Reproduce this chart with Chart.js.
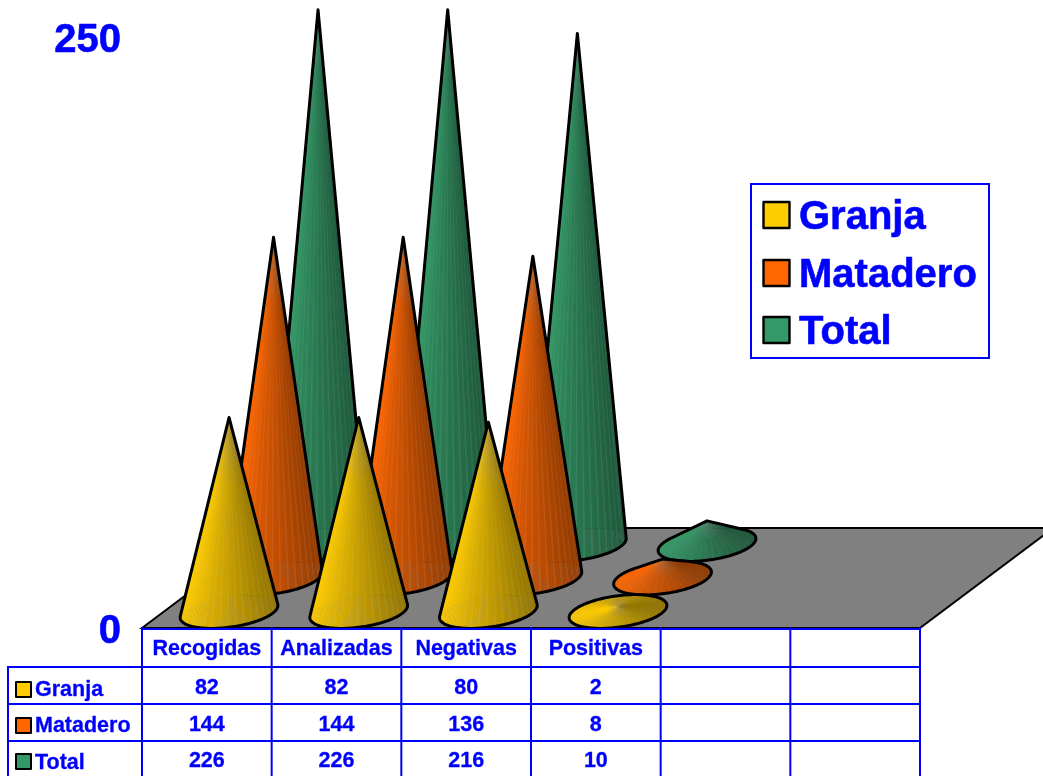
<!DOCTYPE html>
<html>
<head>
<meta charset="utf-8">
<title>Muestras</title>
<script src="https://cdn.jsdelivr.net/npm/chart.js@4/dist/chart.umd.min.js"></script>
<style>
  html, body { margin: 0; padding: 0; background: #fff; }
  canvas { display: block; }
</style>
</head>
<body>
<canvas id="myChart" width="1043" height="776"></canvas>
<script>
// values
var categories = ['Recogidas', 'Analizadas', 'Negativas', 'Positivas', '', ''];
var granja = [82, 82, 80, 2];
var matadero = [144, 144, 136, 8];
var total = [226, 226, 216, 10];
var seriesNames = ['Granja', 'Matadero', 'Total'];
var seriesColors = ['#FFCC00', '#FF6600', '#339966'];
var yTicks = [0, 250];

var BLUE = '#0000FF';
var FONT = '"Liberation Sans", Arial, sans-serif';

// depth of the fake 3d floor
var depthX = 44.5, depthY = 33.5;
var firstX = 22.2, firstY = 16.5;

function shade(hex, k, light) {
  var c = [parseInt(hex.substr(1, 2), 16), parseInt(hex.substr(3, 2), 16), parseInt(hex.substr(5, 2), 16)];
  var out = c.map(function (v) {
    return Math.min(255, Math.round(v * k * (1 - light) + 200 * light));
  });
  return 'rgb(' + out.join(',') + ')';
}

function hull(points) {
  var pts = points.slice().sort(function (a, b) { return a.x - b.x || a.y - b.y; });
  function cross(o, a, b) { return (a.x - o.x) * (b.y - o.y) - (a.y - o.y) * (b.x - o.x); }
  var lower = [], upper = [];
  pts.forEach(function (p) {
    while (lower.length > 1 && cross(lower[lower.length - 2], lower[lower.length - 1], p) <= 0) lower.pop();
    lower.push(p);
  });
  pts.reverse().forEach(function (p) {
    while (upper.length > 1 && cross(upper[upper.length - 2], upper[upper.length - 1], p) <= 0) upper.pop();
    upper.push(p);
  });
  return lower.slice(0, -1).concat(upper.slice(0, -1));
}

function drawCone(ctx, bar, k, color) {
  var zero = bar.base, halfW = bar.width / 2;
  var cx = bar.x + firstX + depthX * k;
  var cy = zero - firstY - depthY * k;
  var apex = { x: cx, y: bar.y - firstY - depthY * k };
  var tall = cy - apex.y;
  var A = halfW, B = halfW * 0.38, C = halfW * 0.37;
  var n = 150, ring = [], i;
  for (i = 0; i < n; i++) {
    var t = i / n * Math.PI * 2;
    ring.push({ x: cx + Math.cos(t) * A + Math.sin(t) * B, y: cy - Math.sin(t) * C });
  }
  var minX = cx - Math.sqrt(A * A + B * B), spanX = 2 * Math.sqrt(A * A + B * B);

  // fan of thin slices, back of the ring first, lit from the left
  var slices = ring.map(function (p, idx) { return { a: p, b: ring[(idx + 1) % n], idx: idx }; });
  slices.sort(function (s1, s2) { return s1.a.y - s2.a.y; });
  slices.forEach(function (s) {
    var pos = (s.a.x - minX) / spanX;
    var k2 = pos < 0.3 ? 1 - 0.5 * pos : 0.85 - 0.39 * (pos - 0.3);
    var light = s.idx % 4 === 0 ? (tall > 60 ? 0.12 : 0.05) : 0;
    ctx.fillStyle = shade(color, k2, light);
    ctx.strokeStyle = ctx.fillStyle;
    ctx.lineWidth = 0.3;
    ctx.beginPath();
    ctx.moveTo(apex.x, apex.y);
    ctx.lineTo(s.a.x, s.a.y);
    ctx.lineTo(s.b.x, s.b.y);
    ctx.closePath();
    ctx.fill();
    ctx.stroke();
  });

  var outline = hull(ring.concat([apex]));
  function tracePath() {
    ctx.beginPath();
    outline.forEach(function (p, idx) { if (idx) ctx.lineTo(p.x, p.y); else ctx.moveTo(p.x, p.y); });
    ctx.closePath();
  }

  // greyish haze around the tip
  ctx.save();
  tracePath();
  ctx.clip();
  var reach = Math.min(70, tall * 0.4 + 10);
  var haze = ctx.createRadialGradient(apex.x, apex.y, 0, apex.x, apex.y, reach);
  haze.addColorStop(0, 'rgba(136,136,136,0.4)');
  haze.addColorStop(1, 'rgba(136,136,136,0)');
  ctx.fillStyle = haze;
  ctx.fillRect(apex.x - reach, apex.y - reach, reach * 2, reach * 2);
  ctx.restore();

  tracePath();
  ctx.strokeStyle = '#000';
  ctx.lineWidth = 3;
  ctx.lineJoin = 'round';
  ctx.stroke();
}

var conePlugin = {
  id: 'cones',
  afterLayout: function (chart) {
    // digits sit a bit high on the middle baseline, push the axis labels down
    chart.scales.y.getLabelItems(chart.chartArea).forEach(function (item) {
      item.options.translation[1] += 4;
    });
  },
  beforeDatasetsDraw: function (chart) {
    // grey floor behind the cones
    var ctx = chart.ctx, area = chart.chartArea;
    var dx = firstX * 2 + depthX * 2, dy = firstY * 2 + depthY * 2;
    ctx.save();
    ctx.fillStyle = '#808080';
    ctx.strokeStyle = '#000';
    ctx.lineWidth = 2;
    ctx.beginPath();
    ctx.moveTo(area.left, area.bottom);
    ctx.lineTo(area.left + dx, area.bottom - dy);
    ctx.lineTo(area.right + dx, area.bottom - dy);
    ctx.lineTo(area.right, area.bottom);
    ctx.closePath();
    ctx.fill();
    ctx.stroke();
    ctx.restore();
  },
  beforeDatasetDraw: function (chart, args) {
    var ctx = chart.ctx;
    ctx.save();
    args.meta.data.forEach(function (el) {
      var bar = el.getProps(['x', 'y', 'base', 'width'], true);
      drawCone(ctx, bar, args.index, chart.data.datasets[args.index].backgroundColor);
    });
    ctx.restore();
    return false; // cone replaces the bar
  },
  afterDraw: function (chart) {
    drawTable(chart);
    drawLegendBox(chart);
  }
};

function drawSwatch(ctx, x, y, size, color, lw) {
  ctx.fillStyle = color;
  ctx.strokeStyle = '#000';
  ctx.lineWidth = lw;
  ctx.lineJoin = 'round';
  ctx.fillRect(x, y, size, size);
  ctx.strokeRect(x, y, size, size);
}

function boldText(ctx, text, x, y, lw) {
  ctx.fillStyle = BLUE;
  ctx.strokeStyle = BLUE;
  ctx.lineWidth = lw;
  ctx.lineJoin = 'round';
  ctx.fillText(text, x, y);
  ctx.strokeText(text, x, y);
}

function drawTable(chart) {
  var ctx = chart.ctx, xs = chart.scales.x, area = chart.chartArea;
  var rowLines = [667, 704, 741];
  var valueY = [688, 725, 761];
  var nameY = [690, 726, 763];
  var swatchY = [682, 718, 754];
  var leftEdge = 8, bottom = 776;
  var step = xs.getPixelForValue(1) - xs.getPixelForValue(0);
  var i;

  ctx.save();
  ctx.strokeStyle = BLUE;
  ctx.lineWidth = 2;
  ctx.lineCap = 'square';
  ctx.beginPath();
  ctx.moveTo(area.left, area.bottom + 1);
  ctx.lineTo(area.right, area.bottom + 1);
  rowLines.forEach(function (y) {
    ctx.moveTo(leftEdge, y);
    ctx.lineTo(area.right, y);
  });
  for (i = 0; i <= categories.length; i++) {
    var x = area.left + step * i;
    ctx.moveTo(x, area.bottom);
    ctx.lineTo(x, bottom);
  }
  ctx.moveTo(leftEdge, rowLines[0]);
  ctx.lineTo(leftEdge, bottom);
  ctx.stroke();

  ctx.font = 'bold 21.5px ' + FONT;
  ctx.textBaseline = 'middle';
  chart.data.datasets.forEach(function (ds, r) {
    drawSwatch(ctx, 16, swatchY[r], 15, ds.backgroundColor, 2);
    ctx.textAlign = 'left';
    boldText(ctx, ds.label, 35, nameY[r], 0.3);
    ctx.textAlign = 'center';
    ds.data.forEach(function (v, c) {
      boldText(ctx, String(v), xs.getPixelForValue(c), valueY[r], 0.3);
    });
  });
  ctx.restore();
}

function drawLegendBox(chart) {
  var ctx = chart.ctx;
  var rowY = [218, 276, 333];
  var swatchY = [202, 260, 317];
  ctx.save();
  ctx.strokeStyle = BLUE;
  ctx.lineWidth = 2;
  ctx.strokeRect(751, 184, 238, 174);
  ctx.font = 'bold 40px ' + FONT;
  ctx.textBaseline = 'middle';
  ctx.textAlign = 'left';
  chart.data.datasets.forEach(function (ds, r) {
    drawSwatch(ctx, 763.5, swatchY[r], 26, ds.backgroundColor, 2.4);
    boldText(ctx, ds.label, 799, rowY[r], 0.6);
  });
  ctx.restore();
}

var ctx = document.getElementById('myChart');
new Chart(ctx, {
  type: 'bar',
  data: {
    labels: categories,
    datasets: [
      { label: seriesNames[0], data: granja, backgroundColor: seriesColors[0] },
      { label: seriesNames[1], data: matadero, backgroundColor: seriesColors[1] },
      { label: seriesNames[2], data: total, backgroundColor: seriesColors[2] }
    ]
  },
  options: {
    responsive: false,
    animation: false,
    layout: { padding: { top: 36.5, right: 123, bottom: 0, left: 0 } },
    plugins: {
      legend: { display: false },
      tooltip: { enabled: false }
    },
    datasets: { bar: { grouped: false, categoryPercentage: 1, barPercentage: 0.705 } },
    scales: {
      x: {
        grid: { display: false },
        border: { display: false },
        afterFit: function (scale) { scale.height = 148; },
        ticks: {
          color: BLUE,
          font: { family: FONT, size: 21.5, weight: 'bold' },
          textStrokeColor: BLUE,
          textStrokeWidth: 0.3,
          padding: 0,
          autoSkip: false,
          maxRotation: 0
        }
      },
      y: {
        min: yTicks[0],
        max: yTicks[1],
        grid: { display: false, drawTicks: false },
        border: { display: false },
        afterFit: function (scale) {
          scale.width = 142;
          scale.paddingTop = 0;
          scale.paddingBottom = 0;
        },
        ticks: {
          stepSize: yTicks[1],
          color: BLUE,
          font: { family: FONT, size: 40, weight: 'bold' },
          textStrokeColor: BLUE,
          textStrokeWidth: 0.6,
          padding: 21
        }
      }
    }
  },
  plugins: [conePlugin]
});
</script>
</body>
</html>
